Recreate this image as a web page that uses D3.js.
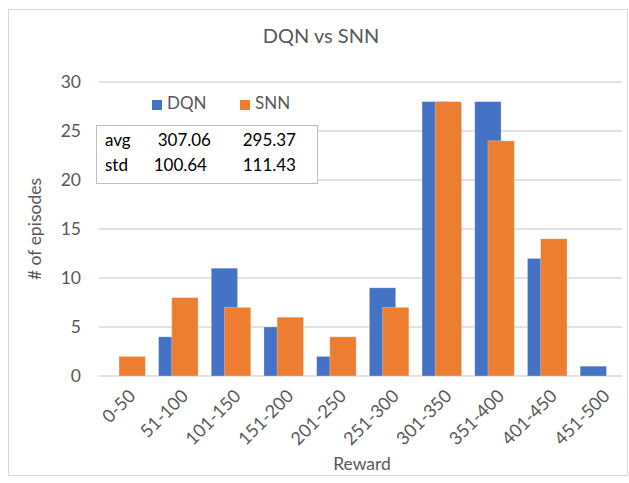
<!DOCTYPE html>
<html><head><meta charset="utf-8">
<script src="https://cdn.jsdelivr.net/npm/d3@7"></script>
<style>body{margin:0;background:#fff}svg{display:block}</style>
</head><body>
<script>
const categories = ["0-50","51-100","101-150","151-200","201-250","251-300","301-350","351-400","401-450","451-500"];
const seriesNames = ["DQN","SNN"];
const dqn = [0,4,11,5,2,9,28,28,12,1];
const snn = [2,8,7,6,4,7,28,24,14,0];
const yTicks = [0,5,10,15,20,25,30];
const statRows = [["avg","307.06","295.37"],["std","100.64","111.43"]];
const colors = ["#4472C4","#ED7D31"];

const W=629,H=483;
const font="Lato, 'Open Sans', sans-serif";
const svg=d3.select("body").append("svg").attr("width",W).attr("height",H);
svg.append("rect").attr("x",8.5).attr("y",9.5).attr("width",619).attr("height",466)
  .attr("fill","#fff").attr("stroke","#d9d9d9");

const pL=99, pR=626, pT=82, pB=376;
const x=d3.scaleBand().domain(categories).range([pL,pR]).paddingInner(0).paddingOuter(0);
const y=d3.scaleLinear().domain([0,30]).range([pB,pT]);

// gridlines
svg.append("g").selectAll("line").data(yTicks).join("line")
  .attr("x1",pL).attr("x2",pR-4).attr("y1",d=>y(d)).attr("y2",d=>y(d))
  .attr("stroke","#d9d9d9").attr("stroke-width",1.3);

// y tick labels
const yAxis=d3.axisLeft(y).tickValues(yTicks).tickSize(0).tickPadding(0);
const ya=svg.append("g").attr("transform",`translate(${pL-18},0)`).call(yAxis);
ya.select(".domain").remove();
ya.selectAll("text").attr("font-family",font).attr("font-size",17.5).attr("fill","#595959");

// bars
const bw = x.bandwidth()*0.5;
const off=[x.bandwidth()*0.13, x.bandwidth()*0.38];
[dqn,snn].forEach((vals,si)=>{
  svg.append("g").selectAll("rect").data(vals.map((v,i)=>({c:categories[i],v})).filter(d=>d.v>0)).join("rect")
    .attr("x",d=>x(d.c)+off[si]).attr("width",bw)
    .attr("y",d=>y(d.v)).attr("height",d=>y(0)-y(d.v))
    .attr("fill",colors[si]).attr("stroke","#fff").attr("stroke-opacity",0.35).attr("stroke-width",0.8);
});

// x labels
svg.append("g").selectAll("text").data(categories).join("text")
  .attr("transform",d=>`translate(${x(d)+x.bandwidth()/2+8},${pB+18}) rotate(-45)`)
  .attr("text-anchor","end").attr("dominant-baseline","middle")
  .attr("font-family",font).attr("font-size",18).attr("fill","#595959").text(d=>d);

// titles
svg.append("text").attr("x",321).attr("y",43).attr("text-anchor","middle")
  .attr("font-family",font).attr("font-size",20).attr("fill","#595959").text("DQN vs SNN");
svg.append("text").attr("x",362).attr("y",470).attr("text-anchor","middle")
  .attr("font-family",font).attr("font-size",17.5).attr("fill","#595959").text("Reward");
svg.append("text").attr("transform",`translate(41,${(pT+pB)/2}) rotate(-90)`).attr("text-anchor","middle")
  .attr("font-family",font).attr("font-size",17.5).attr("fill","#595959").text("# of episodes");

// legend
const lx=[152,240];
seriesNames.forEach((n,i)=>{
  svg.append("rect").attr("x",lx[i]).attr("y",100).attr("width",10).attr("height",10).attr("fill",colors[i]);
  svg.append("text").attr("x",lx[i]+15).attr("y",105).attr("dominant-baseline","middle")
    .attr("font-family",font).attr("font-size",17).attr("fill","#595959").text(n);
});

// stats box
svg.append("rect").attr("x",96.5).attr("y",125.5).attr("width",221).attr("height",58)
  .attr("fill","#fff").attr("stroke","#bfbfbf");
const colPos=[[[105,"start"],[211,"end"],[296,"end"]],[[105,"start"],[207,"end"],[296,"end"]]];
statRows.forEach((row,ri)=>{
  row.forEach((t,ci)=>{
    svg.append("text").attr("x",colPos[ri][ci][0]).attr("y",142+ri*25).attr("text-anchor",colPos[ri][ci][1])
      .attr("dominant-baseline","middle").attr("font-family",font).attr("font-size",17).attr("fill","#000").text(t);
  });
});
</script>
</body></html>
